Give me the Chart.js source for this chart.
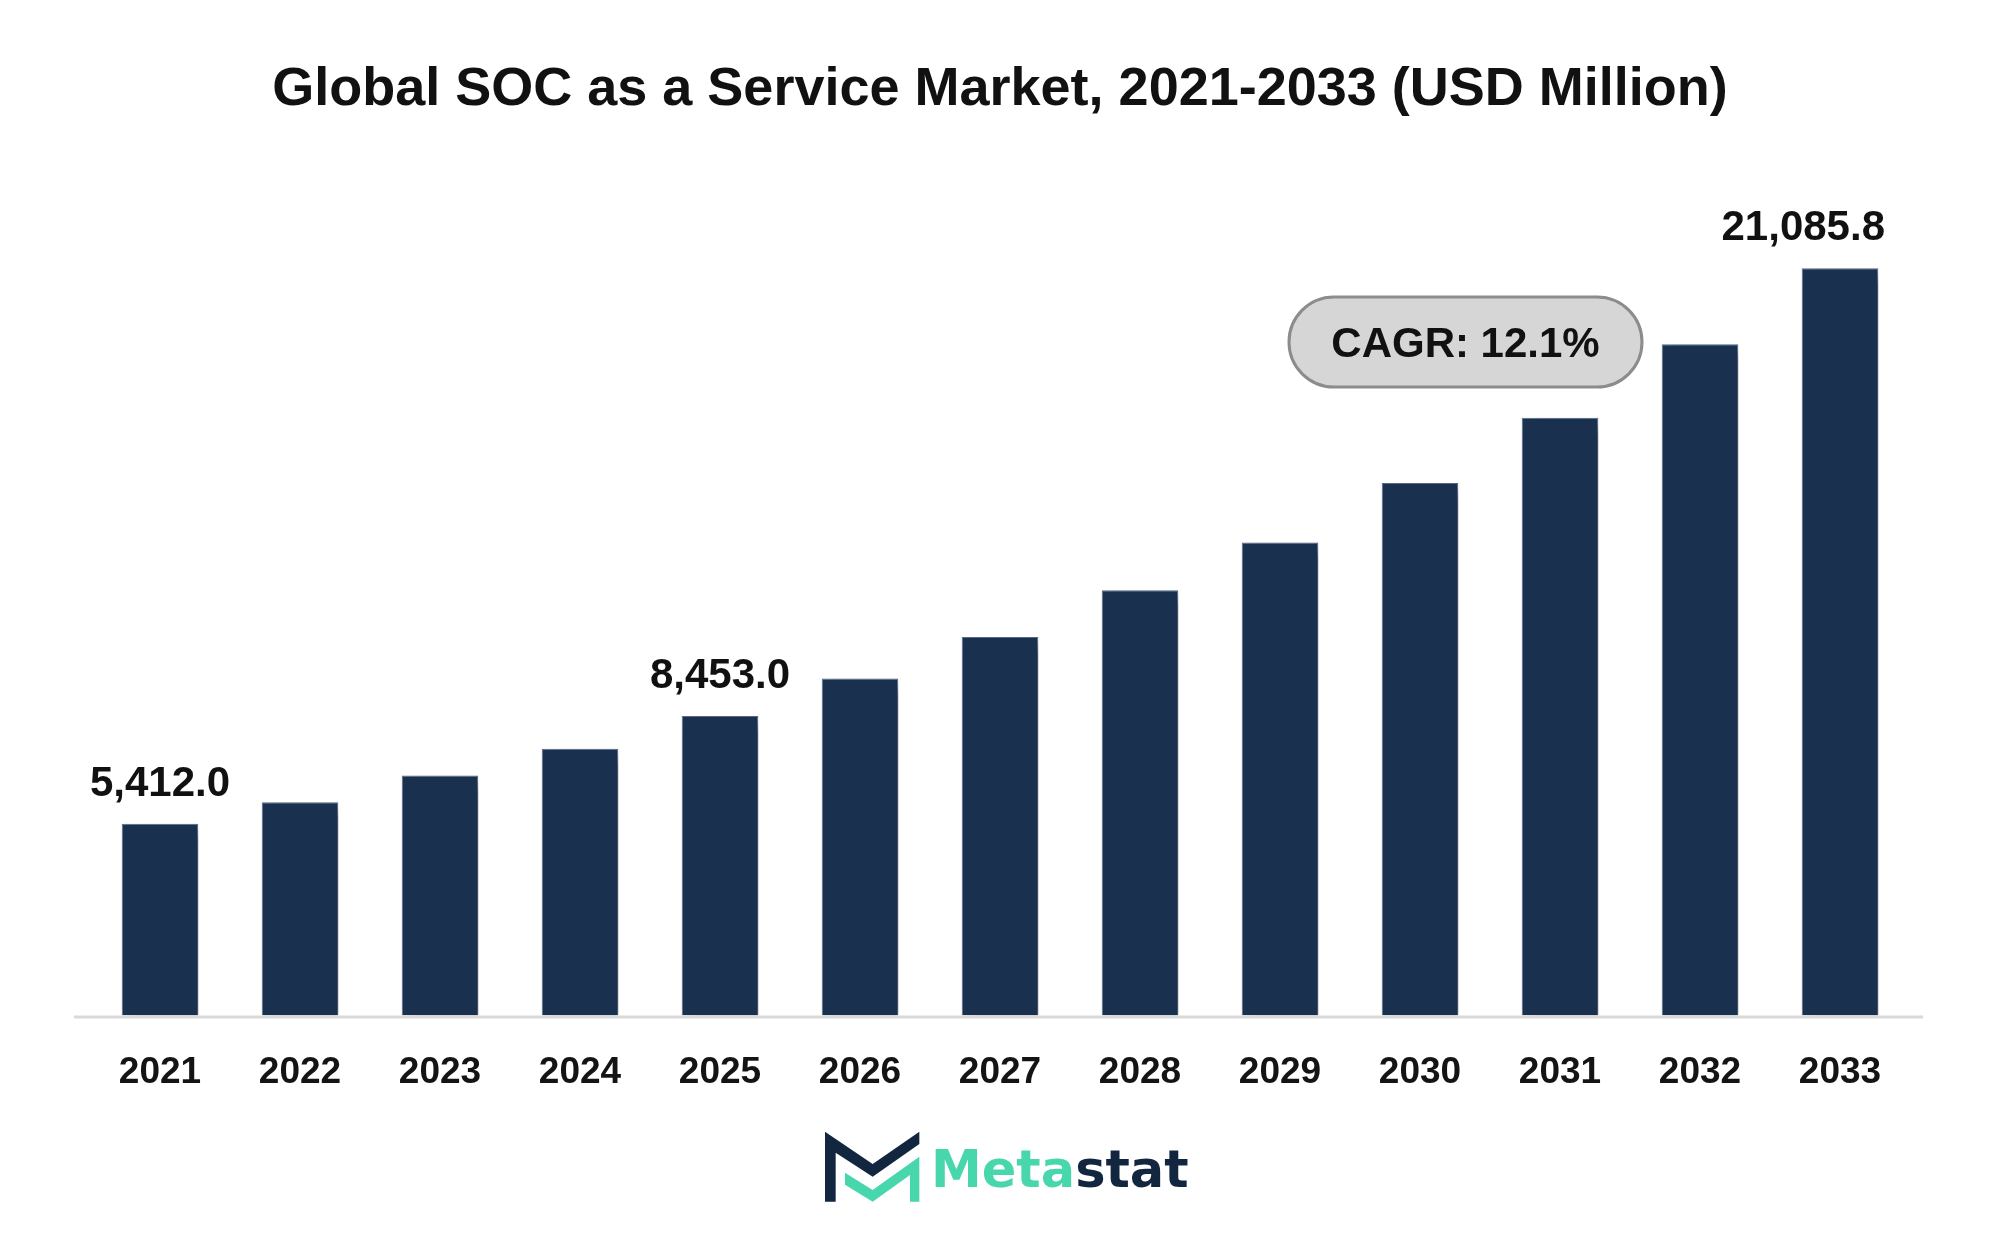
<!DOCTYPE html>
<html>
<head>
<meta charset="utf-8">
<title>Global SOC as a Service Market</title>
<script src="https://cdn.jsdelivr.net/npm/chart.js@4.4.1/dist/chart.umd.min.js"></script>
<style>
  html, body { margin: 0; padding: 0; background: #ffffff; }
  #wrap { width: 2000px; height: 1240px; }
</style>
</head>
<body>
<div id="wrap"><canvas id="socChart" width="2000" height="1240"></canvas></div>
<script>
// Data (USD Million)
const years = ['2021', '2022', '2023', '2024', '2025', '2026', '2027', '2028', '2029', '2030', '2031', '2032', '2033'];
const marketSize = [5412.0, 6023, 6773, 7532, 8453.0, 9508, 10680, 12000, 13350, 15024, 16871, 18942, 21085.8];
const labelledYears = ['2021', '2025', '2033'];
const chartTitle = 'Global SOC as a Service Market, 2021-2033 (USD Million)';
const cagrText = 'CAGR: 12.1%';

const barColor = '#19314f';
const navy = '#12263f';
const teal = '#48d7ac';
const font = '"Liberation Sans", Arial, sans-serif';

function fmt(v) {
  return v.toLocaleString('en-US', { minimumFractionDigits: 1, maximumFractionDigits: 1 });
}

// shadow behind the bars
const barShadow = {
  id: 'barShadow',
  beforeDatasetsDraw(chart) {
    const c = chart.ctx;
    c.save();
    c.shadowColor = 'rgba(0,0,0,0.42)';
    c.shadowBlur = 13;
    c.shadowOffsetX = 10;
    c.shadowOffsetY = 8;
  },
  afterDatasetsDraw(chart) {
    chart.ctx.restore();
  }
};

// axis line, value labels, title, CAGR pill and logo
const decorations = {
  id: 'decorations',
  afterDatasetsDraw(chart) {
    const c = chart.ctx;
    const area = chart.chartArea;

    // base line
    c.save();
    c.strokeStyle = '#d9d9d9';
    c.lineWidth = 3;
    c.beginPath();
    c.moveTo(area.left - 16, area.bottom + 1.5);
    c.lineTo(area.right + 13, area.bottom + 1.5);
    c.stroke();

    // value labels on selected bars (kept inside the right margin)
    const meta = chart.getDatasetMeta(0);
    c.fillStyle = '#111111';
    c.font = 'bold 42px ' + font;
    c.textAlign = 'center';
    c.textBaseline = 'alphabetic';
    years.forEach((y, i) => {
      if (!labelledYears.includes(y)) return;
      const bar = meta.data[i];
      const txt = fmt(marketSize[i]);
      const w = c.measureText(txt).width;
      const x = Math.min(bar.x, 1885 - w / 2);
      c.fillText(txt, x, bar.y - 28);
    });
    c.restore();
  },
  afterDraw(chart) {
    const c = chart.ctx;
    c.save();

    // title
    c.fillStyle = '#111111';
    c.font = 'bold 54px ' + font;
    c.textAlign = 'center';
    c.textBaseline = 'alphabetic';
    c.fillText(chartTitle, 1000, 105);

    // CAGR pill
    const bx = 1289, by = 297, bw = 353, bh = 90, r = bh / 2;
    c.beginPath();
    c.moveTo(bx + r, by);
    c.lineTo(bx + bw - r, by);
    c.arc(bx + bw - r, by + r, r, -Math.PI / 2, Math.PI / 2);
    c.lineTo(bx + r, by + bh);
    c.arc(bx + r, by + r, r, Math.PI / 2, Math.PI * 1.5);
    c.closePath();
    c.fillStyle = '#d6d6d6';
    c.fill();
    c.lineWidth = 3;
    c.strokeStyle = '#8c8c8c';
    c.stroke();
    c.fillStyle = '#111111';
    c.font = 'bold 42px ' + font;
    c.fillText(cagrText, bx + bw / 2, 357);

    // logo mark
    const px = (x) => 800 + x / 3;
    const py = (y) => 1110 + y / 3;
    const poly = (pts, col) => {
      c.beginPath();
      pts.forEach((p, k) => (k ? c.lineTo(px(p[0]), py(p[1])) : c.moveTo(px(p[0]), py(p[1]))));
      c.closePath();
      c.fillStyle = col;
      c.fill();
    };
    poly([[75, 65], [218, 162], [358, 65], [358, 102], [218, 200], [107, 128], [107, 275], [75, 275]], navy);
    poly([[135, 188], [218, 240], [358, 140], [358, 275], [330, 275], [330, 195], [218, 275], [135, 224]], teal);

    // logo word
    c.textAlign = 'left';
    c.font = 'bold 51px "DejaVu Sans", sans-serif';
    c.fillStyle = teal;
    c.fillText('Meta', 931, 1187);
    const w = c.measureText('Meta').width;
    c.fillStyle = navy;
    c.fillText('stat', 931 + w, 1187);
    c.restore();
  }
};

const ctx = document.getElementById('socChart').getContext('2d');
const socChart = new Chart(ctx, {
  type: 'bar',
  data: {
    labels: years,
    datasets: [{
      label: 'Market Size',
      data: marketSize,
      backgroundColor: barColor,
      borderColor: '#566c8a',
      borderWidth: 1,
      barPercentage: 0.547,
      categoryPercentage: 1.0
    }]
  },
  options: {
    responsive: false,
    animation: false,
    layout: { padding: { top: 165, left: 90, right: 90, bottom: 110 } },
    plugins: {
      legend: { display: false },
      tooltip: { enabled: false }
    },
    scales: {
      x: {
        grid: { display: false, drawTicks: false },
        border: { display: false },
        ticks: {
          color: '#141414',
          padding: 35,
          font: { family: font, size: 37, weight: 'bold' }
        }
      },
      y: {
        display: false,
        min: 0,
        max: 24000
      }
    }
  },
  plugins: [barShadow, decorations]
});
</script>
</body>
</html>
